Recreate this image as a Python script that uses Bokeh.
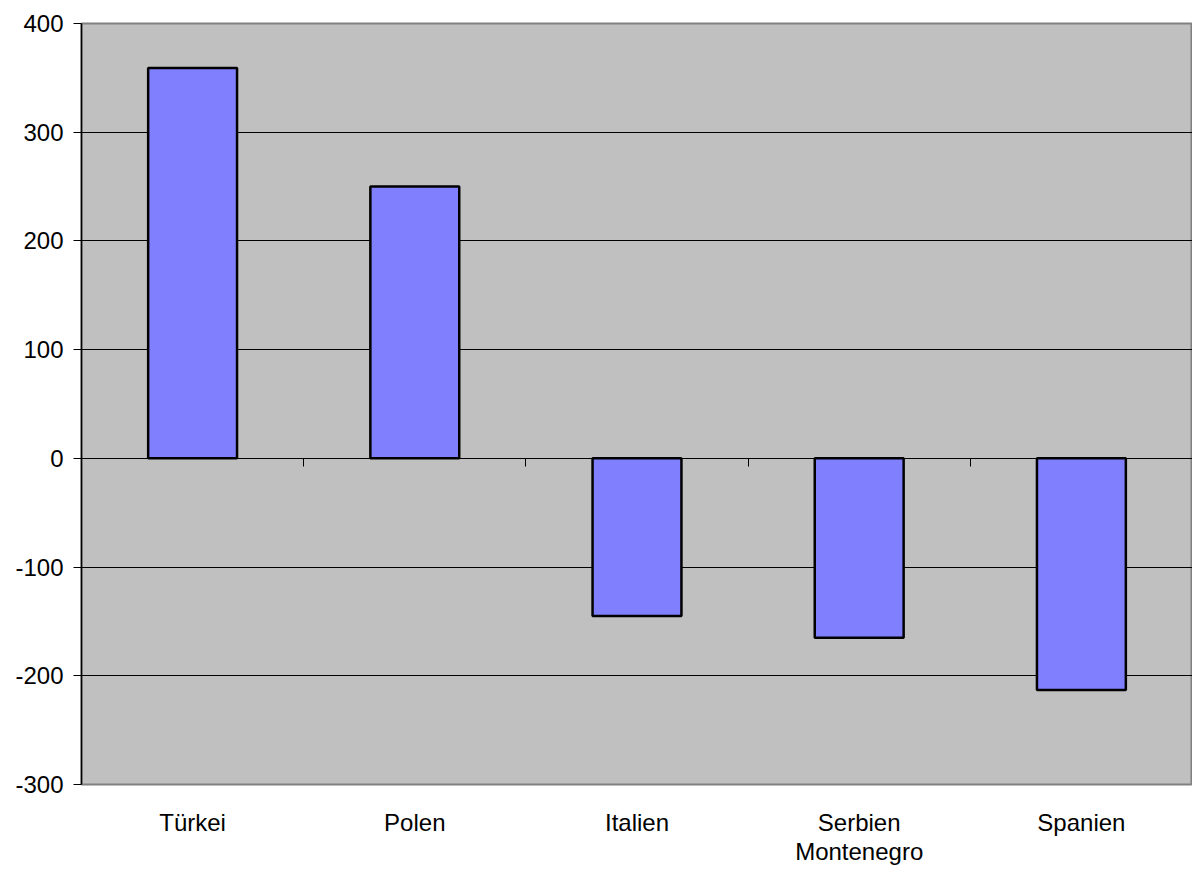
from bokeh.plotting import figure
from bokeh.models import Range1d, FixedTicker, LinearAxis
from bokeh.embed import file_html
from bokeh.resources import INLINE

categories = ["Türkei", "Polen", "Italien", "Serbien\nMontenegro", "Spanien"]
values = [359, 250, -145, -165, -213]
y_ticks = [-300, -200, -100, 0, 100, 200, 300, 400]

positions = [i + 0.5 for i in range(len(categories))]
boundaries = list(range(1, len(categories)))

p = figure(width=1192, height=869, output_backend="svg", toolbar_location=None,
           x_range=Range1d(0, len(categories)), y_range=Range1d(-300, 400),
           x_axis_type=None, min_border_left=81, min_border_right=0,
           min_border_top=23, min_border_bottom=85)
p.background_fill_color = "#C0C0C0"
p.outline_line_color = "#808080"
p.outline_line_width = 2

p.vbar(x=positions, top=values, bottom=0, width=0.4,
       fill_color="#8080FF", line_color="black", line_width=2.5)

# y axis
p.yaxis.ticker = FixedTicker(ticks=y_ticks)
p.yaxis.major_label_overrides = {t: str(t) for t in y_ticks}
p.yaxis.major_label_text_font = "Liberation Sans"
p.yaxis.major_label_text_font_size = "24px"
p.yaxis.major_label_text_color = "black"
p.yaxis.major_tick_out = 8
p.yaxis.major_tick_in = 0
p.yaxis.minor_tick_line_color = None
p.yaxis.axis_line_color = "black"
p.yaxis.axis_line_width = 1.5
p.yaxis.major_tick_line_color = "black"
p.yaxis.major_label_standoff = 10

p.ygrid.ticker = FixedTicker(ticks=y_ticks)
p.ygrid.grid_line_color = "black"
p.ygrid.grid_line_width = 1
p.xgrid.grid_line_color = None

# category labels below the frame
xlab = LinearAxis(ticker=FixedTicker(ticks=positions),
                  major_label_overrides={pos: c for pos, c in zip(positions, categories)})
xlab.major_tick_line_color = None
xlab.minor_tick_line_color = None
xlab.axis_line_color = None
xlab.major_label_text_font = "Liberation Sans"
xlab.major_label_text_font_size = "24px"
xlab.major_label_text_color = "black"
xlab.major_label_text_line_height = 1.1
xlab.major_label_standoff = 18
p.add_layout(xlab, "below")

# axis at zero with category boundary ticks
zaxis = LinearAxis(fixed_location=0, ticker=FixedTicker(ticks=boundaries),
                   major_label_overrides={b: "" for b in boundaries})
zaxis.major_tick_out = 8
zaxis.major_tick_in = 0
zaxis.minor_tick_line_color = None
zaxis.axis_line_color = "black"
zaxis.major_tick_line_color = "black"
zaxis.major_label_text_font_size = "0px"
p.add_layout(zaxis, "below")

open("out.html", "w").write(file_html(p, INLINE))
